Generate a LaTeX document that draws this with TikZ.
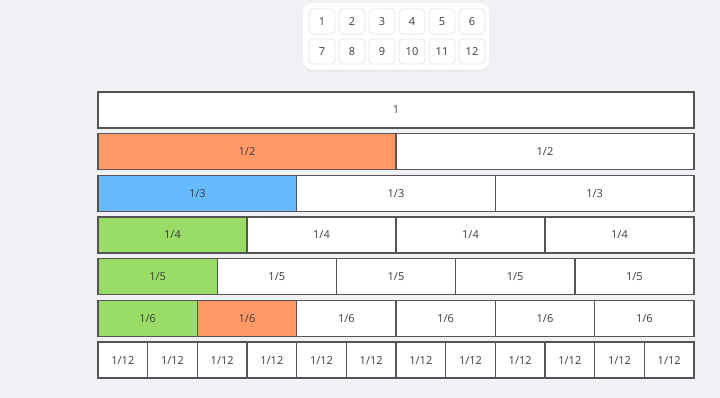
\documentclass[tikz,border=0pt]{standalone}
\usepackage{fontspec}
\setmainfont{Open Sans}
\usetikzlibrary{shadows}
\definecolor{pagebg}{HTML}{F0F1F5}
\definecolor{cellborder}{HTML}{555555}
\definecolor{celltext}{HTML}{3A3A3A}
\definecolor{fracorange}{HTML}{FF9966}
\definecolor{fracblue}{HTML}{66BBFF}
\definecolor{fracgreen}{HTML}{99DD66}
\definecolor{btnborder}{HTML}{E4E5EA}

\begin{document}
\begin{tikzpicture}[
  x=1pt,
  y=-1pt,
  font=\fontsize{11}{13}\selectfont,
  picker/.style={fill=white,draw=none,rounded corners=9pt,
    drop shadow={opacity=0.12,shadow xshift=0pt,shadow yshift=-1.5pt}},
  pickbtn/.style={fill=white,draw=btnborder,line width=0.8pt,rounded corners=4pt,
    minimum width=26pt,minimum height=25pt,inner sep=0pt,text=celltext},
  fraccell/.style={draw=cellborder,line width=1.4pt,minimum height=36pt,
    inner sep=0pt,text=celltext}
]
  \useasboundingbox[fill=pagebg] (0,0) rectangle (720,398);

  % Number picker at the top.
  \path[picker] (303,3) rectangle (489,70);
  \foreach \n in {1,...,12} {
    \pgfmathtruncatemacro{\col}{mod(\n-1,6)}
    \pgfmathtruncatemacro{\line}{(\n-1)/6}
    \node[pickbtn] (btn\n) at ({322+30*\col},{21.5+30*\line}) {\n};
  }

  % Fraction strips, one row per denominator.
  \foreach \r/\d/\cA/\cB in {1/1/white/white,2/2/fracorange/white,3/3/fracblue/white,
      4/4/fracgreen/white,5/5/fracgreen/white,6/6/fracgreen/fracorange,7/12/white/white} {
    \pgfmathsetmacro{\w}{596/\d}
    \foreach \i in {1,...,\d} {
      \ifnum\i=1 \let\cellcol\cA \else\ifnum\i=2 \let\cellcol\cB \else \def\cellcol{white}\fi\fi
      \ifnum\d=1 \def\lbl{1}\else \def\lbl{1/\d}\fi
      \node[fraccell,fill=\cellcol,minimum width=\w pt] (row\r-\i)
        at ({98+(\i-0.5)*\w},{110+(\r-1)*41.67}) {\lbl};
    }
  }
\end{tikzpicture}
\end{document}
